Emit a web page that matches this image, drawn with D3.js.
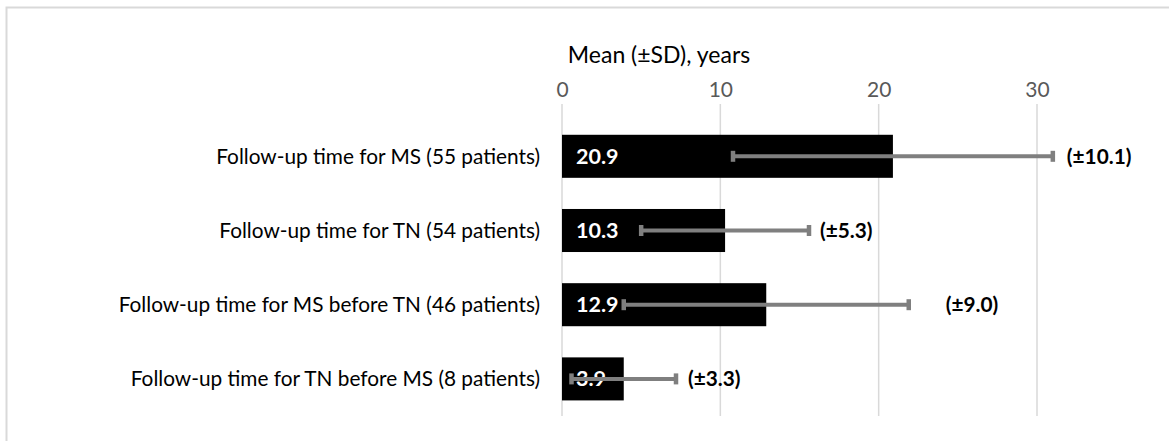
<!DOCTYPE html>
<html><head><meta charset="utf-8">
<script src="https://cdn.jsdelivr.net/npm/d3@7"></script>
<style>body{margin:0;background:#fff;} svg{display:block;}</style>
</head><body><svg id="c" width="1169" height="441"></svg>
<script>
const categories = [
  "Follow-up time for MS (55 patients)",
  "Follow-up time for TN (54 patients)",
  "Follow-up time for MS before TN (46 patients)",
  "Follow-up time for TN before MS (8 patients)"
];
const means = [20.9, 10.3, 12.9, 3.9];
const sds = [10.1, 5.3, 9.0, 3.3];
const meanLabels = ["20.9", "10.3", "12.9", "3.9"];
const sdLabels = ["(±10.1)", "(±5.3)", "(±9.0)", "(±3.3)"];
const ticks = [0, 10, 20, 30];
const axisTitle = "Mean (±SD), years";

const FONT = "Lato, 'Open Sans', sans-serif";
const svg = d3.select("#c");
svg.append("rect").attr("x", 6.5).attr("y", 7.5).attr("width", 1200).attr("height", 500)
  .attr("fill", "#fff").attr("stroke", "#d9d9d9").attr("stroke-width", 2);

const x = d3.scaleLinear().domain([0, 30]).range([562, 1037]);
const y = d3.scaleBand().domain(categories).range([119.2, 416]).paddingInner(0.42).paddingOuter(0.21);

// gridlines
const gTop = 104, gBot = 416;
svg.append("g").selectAll("line").data(ticks).join("line")
  .attr("x1", d => x(d)).attr("x2", d => x(d)).attr("y1", gTop).attr("y2", gBot)
  .attr("stroke", "#d9d9d9").attr("stroke-width", 1.5);

// top axis labels
const ax = svg.append("g").attr("transform", `translate(0,${gTop})`)
  .call(d3.axisTop(x).tickValues(ticks).tickSize(0).tickPadding(7).tickFormat(d3.format("d")));
ax.select(".domain").remove();
ax.selectAll("text").attr("fill", "#595959").style("font-family", FONT).style("font-size", "21px");

svg.append("text").attr("x", 659).attr("y", 63).attr("text-anchor", "middle")
  .style("font-family", FONT).style("font-size", "23px").attr("fill", "#000").text(axisTitle);

// category labels
svg.append("g").selectAll("text").data(categories).join("text")
  .attr("x", 540).attr("y", d => y(d) + y.bandwidth() / 2).attr("dy", "0.35em")
  .attr("text-anchor", "end").style("font-family", FONT).style("font-size", "20.8px")
  .attr("fill", "#000").text(d => d);

// bars
svg.append("g").selectAll("rect").data(categories).join("rect")
  .attr("x", x(0)).attr("y", d => y(d)).attr("width", (d, i) => x(means[i]) - x(0))
  .attr("height", y.bandwidth()).attr("fill", "#000");

// value labels
svg.append("g").selectAll("text").data(categories).join("text")
  .attr("x", 576).attr("y", d => y(d) + y.bandwidth() / 2).attr("dy", "0.35em")
  .style("font-family", FONT).style("font-size", "21.5px").style("font-weight", "bold")
  .attr("fill", "#fff").text((d, i) => meanLabels[i]);

// error bars
const eb = svg.append("g");
categories.forEach((c, i) => {
  const cy = y(c) + y.bandwidth() / 2;
  const lo = x(means[i] - sds[i]), hi = x(means[i] + sds[i]);
  eb.append("line").attr("x1", lo).attr("x2", hi).attr("y1", cy).attr("y2", cy)
    .attr("stroke", "#7f7f7f").attr("stroke-width", 4);
  [lo, hi].forEach(px => eb.append("line").attr("x1", px).attr("x2", px)
    .attr("y1", cy - 5.5).attr("y2", cy + 5.5).attr("stroke", "#7f7f7f").attr("stroke-width", 4.5));
});

// SD labels
const sdOffset = [14, 11, 37, 12];
svg.append("g").selectAll("text").data(categories).join("text")
  .attr("x", (d, i) => x(means[i] + sds[i]) + sdOffset[i])
  .attr("y", d => y(d) + y.bandwidth() / 2).attr("dy", "0.35em")
  .style("font-family", FONT).style("font-size", "20.8px").style("font-weight", "bold")
  .attr("fill", "#000").text((d, i) => sdLabels[i]);
</script></body></html>
